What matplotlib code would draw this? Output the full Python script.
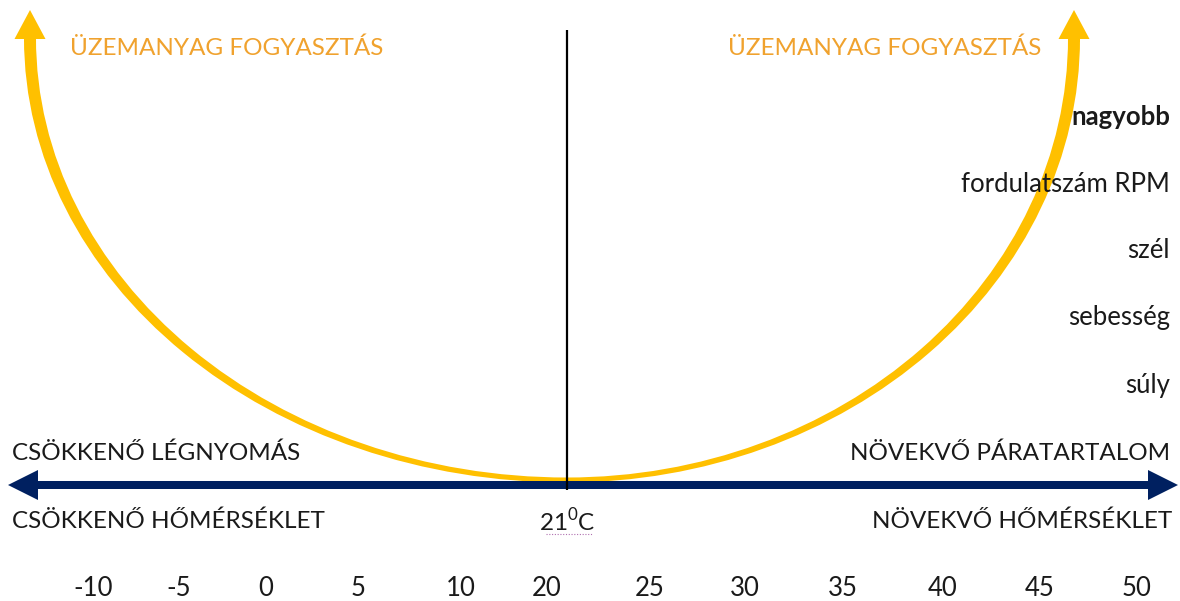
#! /usr/bin/env python3

"""
Fuel consumption vs. ambient conditions diagram (U-shaped curve).
"""

import matplotlib.pyplot as plt
from matplotlib.path import Path
from matplotlib.patches import PathPatch
from matplotlib.transforms import Affine2D

plt.rcParams["font.family"] = ["Lato", "DejaVu Sans"]
plt.rcParams["mathtext.fontset"] = "custom"
plt.rcParams["mathtext.rm"] = "Lato"

# --- content ---------------------------------------------------------------
tick_labels = ["-10", "-5", "0", "5", "10", "20", "25", "30", "35", "40", "45", "50"]
tick_x = [93, 179, 266, 358, 461, 547, 650, 745, 843, 943, 1040, 1137]

curve_title = "ÜZEMANYAG FOGYASZTÁS"
right_factors = ["nagyobb", "fordulatszám RPM", "szél", "sebesség", "súly"]
factor_y = [117, 185, 250, 318, 385]

left_upper = "CSÖKKENŐ LÉGNYOMÁS"
right_upper = "NÖVEKVŐ PÁRATARTALOM"
left_lower = "CSÖKKENŐ HŐMÉRSÉKLET"
right_lower = "NÖVEKVŐ HŐMÉRSÉKLET"
center_label = r"21$^{\mathregular{0}}$C"

# --- styles / layout ---------------------------------------------------------
GOLD = "#FFC000"
ORANGE_TEXT = "#F0A22E"
NAVY = "#002060"
TEXT = "#1a1a1a"
FS = 17.5           # captions
FS_BIG = 18.5       # factors and the temperature scale

W, H = 1180, 601
CX = 567            # centre (21 C)
AXIS_Y = 485        # horizontal arrow
ARC_TOP = 38        # y where the arms end (arrow head base)
ARC_BOTTOM = 480    # bottom of the U
LEFT_A = CX - 30    # half-width of left arm
RIGHT_A = 1074 - CX # half-width of right arm
TOP_W = 12          # band width at the top
BOT_W = 5           # band width at the bottom

fig = plt.figure(figsize=(W / 100, H / 100), dpi=100)
ax = fig.add_axes([0, 0, 1, 1])
ax.set_xlim(0, W)
ax.set_ylim(H, 0)
ax.axis("off")


def arm(theta1, theta2, a, b):
    """Quarter-ellipse band, thicker at the top, thinner at the bottom."""
    outer = Path.arc(theta1, theta2).transformed(
        Affine2D().scale(a + TOP_W / 2, b + BOT_W / 2).translate(CX, ARC_TOP))
    inner = Path.arc(theta1, theta2).transformed(
        Affine2D().scale(a - TOP_W / 2, b - BOT_W / 2).translate(CX, ARC_TOP))
    verts = list(outer.vertices) + list(inner.vertices[::-1])
    codes = list(outer.codes) + [Path.LINETO] + list(inner.codes[1:])
    verts.append(verts[0])
    codes.append(Path.CLOSEPOLY)
    return PathPatch(Path(verts, codes), facecolor=GOLD, edgecolor="none")


b = ARC_BOTTOM - ARC_TOP
ax.add_patch(arm(90, 180, LEFT_A, b))
ax.add_patch(arm(0, 90, RIGHT_A, b))

# gold arrow heads at the top of both arms
for x in (CX - LEFT_A, CX + RIGHT_A):
    ax.arrow(x, ARC_TOP + 4, 0, -32, width=TOP_W, head_width=31,
             head_length=29, length_includes_head=True, color=GOLD, lw=0)

# vertical reference line
ax.plot([CX, CX], [30, 490], color="black", lw=1.6, solid_capstyle="butt")

# horizontal double arrow
for x_end in (8, 1178):
    ax.arrow(CX, AXIS_Y, x_end - CX, 0, width=8, head_width=30,
             head_length=30, length_includes_head=True, color=NAVY, lw=0)

# titles over the arms
ax.text(70, 48, curve_title, color=ORANGE_TEXT, fontsize=FS, va="center", ha="left")
ax.text(728, 48, curve_title, color=ORANGE_TEXT, fontsize=FS, va="center", ha="left")

# factors on the right
for i, (label, y) in enumerate(zip(right_factors, factor_y)):
    ax.text(1170, y, label, color=TEXT, fontsize=FS_BIG, va="center", ha="right",
            fontweight="bold" if i == 0 else "normal")

# axis captions
ax.text(12, 453, left_upper, color=TEXT, fontsize=FS, va="center", ha="left")
ax.text(1170, 453, right_upper, color=TEXT, fontsize=FS, va="center", ha="right")
ax.text(12, 521, left_lower, color=TEXT, fontsize=FS, va="center", ha="left")
ax.text(1172, 521, right_lower, color=TEXT, fontsize=FS, va="center", ha="right")
ax.text(CX, 521, center_label, color=TEXT, fontsize=FS, va="center", ha="center")
ax.plot([546, 592], [534, 534], color="#b070b0", lw=0.8, ls=(0, (1, 1.5)))

# temperature scale
for label, x in zip(tick_labels, tick_x):
    ax.text(x, 588, label, color=TEXT, fontsize=FS_BIG, va="center", ha="center")

fig.savefig("out.png", dpi=100)
